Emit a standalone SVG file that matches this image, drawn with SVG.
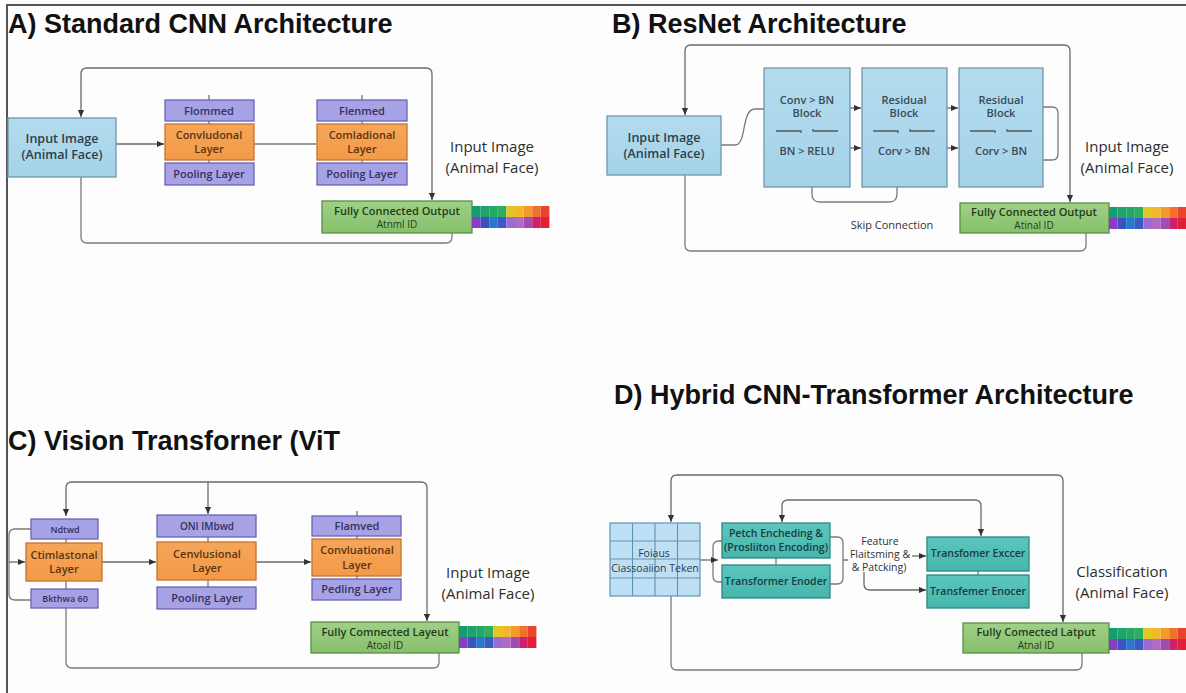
<svg xmlns="http://www.w3.org/2000/svg" width="1186" height="693" viewBox="0 0 1186 693">
<defs>
<marker id="ar" viewBox="0 0 8 8" refX="8" refY="4" markerWidth="7" markerHeight="7" markerUnits="userSpaceOnUse" orient="auto-start-reverse"><path d="M0,0.5 L8,4 L0,7.5 Z" fill="#333"/></marker>
<linearGradient id="gb" x1="0" y1="0" x2="0" y2="1"><stop offset="0" stop-color="#b3dbee"/><stop offset="1" stop-color="#a5d2e8"/></linearGradient>
<linearGradient id="gg" x1="0" y1="0" x2="0" y2="1"><stop offset="0" stop-color="#9fd086"/><stop offset="1" stop-color="#86c06c"/></linearGradient>
<linearGradient id="go" x1="0" y1="0" x2="0" y2="1"><stop offset="0" stop-color="#f6a65a"/><stop offset="1" stop-color="#f29a48"/></linearGradient>
<linearGradient id="gt" x1="0" y1="0" x2="0" y2="1"><stop offset="0" stop-color="#5cc6bd"/><stop offset="1" stop-color="#47b6ad"/></linearGradient>
<g id="cbar">
<rect x="0" y="0" width="8.6" height="11" fill="#169c72"/><rect x="8.6" y="0" width="8.6" height="11" fill="#1ea36c"/><rect x="17.2" y="0" width="8.6" height="11" fill="#25a866"/><rect x="25.8" y="0" width="8.6" height="11" fill="#30ae60"/><rect x="34.4" y="0" width="8.6" height="11" fill="#e3c524"/><rect x="43" y="0" width="8.6" height="11" fill="#f2b82a"/><rect x="51.6" y="0" width="8.6" height="11" fill="#f39a2a"/><rect x="60.2" y="0" width="8.6" height="11" fill="#f07030"/><rect x="68.8" y="0" width="8.6" height="11" fill="#e8452a"/>
<rect x="0" y="11" width="8.6" height="11" fill="#8a3cc4"/><rect x="8.6" y="11" width="8.6" height="11" fill="#3b52c0"/><rect x="17.2" y="11" width="8.6" height="11" fill="#2a78cc"/><rect x="25.8" y="11" width="8.6" height="11" fill="#3a5cc0"/><rect x="34.4" y="11" width="8.6" height="11" fill="#9f6ad0"/><rect x="43" y="11" width="8.6" height="11" fill="#b06cc0"/><rect x="51.6" y="11" width="8.6" height="11" fill="#a04cb0"/><rect x="60.2" y="11" width="8.6" height="11" fill="#d0206a"/><rect x="68.8" y="11" width="8.6" height="11" fill="#e0203a"/>
</g>
</defs>
<style>
.title{font-family:"Liberation Sans",Arial,sans-serif;font-weight:bold;font-size:27px;fill:#111}
.lbl{font-family:"Open Sans","Noto Sans",sans-serif;font-size:15px;fill:#2e2e2e;text-anchor:middle}
.t{font-family:"Open Sans","Noto Sans",sans-serif;font-size:11px;text-anchor:middle;font-weight:600}
.tb{font-family:"Open Sans","Noto Sans",sans-serif;font-size:11px;text-anchor:middle;font-weight:600;fill:#3a4a56}
.blue{fill:url(#gb);stroke:#6f98ad;stroke-width:1.3}
.pur{fill:#a7a2e6;stroke:#6b64b4;stroke-width:1.3}
.org{fill:url(#go);stroke:#c5742c;stroke-width:1.3}
.grn{fill:url(#gg);stroke:#5b8f47;stroke-width:1.3}
.teal{fill:url(#gt);stroke:#2b8982;stroke-width:1.3}
.grid{fill:#bfe0f4;stroke:#5f93b4;stroke-width:1.2}
.tp{fill:#35305c}.to{fill:#5a3412}.tg{fill:#253a1c}.tt{fill:#173c40}.tbl{fill:#2c3e4c}
.c{fill:none;stroke:#7a7a7a;stroke-width:1.3}
.ca{fill:none;stroke:#6a6a6a;stroke-width:1.3;marker-end:url(#ar)}
.cab{fill:none;stroke:#6a6a6a;stroke-width:1.3;marker-start:url(#ar);marker-end:url(#ar)}
</style>
<rect x="0" y="0" width="1186" height="693" fill="#fdfdfd"/>
<path d="M7,693 V5 H1186" fill="none" stroke="#555" stroke-width="2"/>

<!-- titles -->
<text class="title" x="8" y="33">A)  Standard CNN Architecture</text>
<text class="title" x="612" y="33">B)  ResNet Architecture</text>
<text class="title" x="8" y="450">C)  Vision Transforner (ViT</text>
<text class="title" x="614" y="404">D)  Hybrid CNN-Transformer Architecture</text>

<!-- connectors -->
<g id="connectors">
<!-- A -->
<path class="cab" d="M81,117 V74 Q81,68 87,68 H426 Q432,68 432,74 V200"/>
<path class="c" d="M81,177 V237 Q81,243 87,243 H446 Q452,243 452,237 V233"/>
<path class="ca" d="M116,144 H164"/>
<path class="c" d="M254,144 H316"/>
<path class="c" d="M209,95 V100 M209,121 V124 M209,160 V163 M362,95 V100 M362,121 V124 M362,160 V163"/>
<!-- B -->
<path class="cab" d="M685,115 V51 Q685,45 691,45 H1064 Q1070,45 1070,51 V202"/>
<path class="c" d="M685,175 V245 Q685,251 691,251 H1080 Q1086,251 1086,245 V233"/>
<path class="c" d="M721,145 H735 C747,145 741,109 755,109 H764"/>
<path class="ca" d="M850,108 H861"/>
<path class="ca" d="M850,148 H861"/>
<path class="ca" d="M947,108 H958"/>
<path class="ca" d="M947,148 H958"/>
<path class="c" d="M812,187 V194 Q812,202 820,202 H889 Q897,202 897,194 V187"/>
<path class="c" d="M1043,107 H1052 Q1058,107 1058,113 V154 Q1058,160 1052,160 H1043"/>
<!-- C -->
<path class="cab" d="M66,516 V488 Q66,482 72,482 H421 Q427,482 427,488 V621"/>
<path class="ca" d="M208,482 V514"/>
<path class="c" d="M66,608 V662 Q66,668 72,668 H433 Q439,668 439,662 V653"/>
<path class="c" d="M31,529 H15 Q9,529 9,535 V594 Q9,600 15,600 H31"/>
<path class="ca" d="M9,562 H25"/>
<path class="ca" d="M102,562 H156"/>
<path class="ca" d="M256,562 H311"/>
<path class="c" d="M66,539 V543 M66,581 V589 M208,537 V542 M208,580 V587 M357,511 V516 M357,536 V539 M357,576 V579"/>
<!-- D -->
<path class="cab" d="M671,522 V481 Q671,475 677,475 H1057 Q1063,475 1063,481 V622"/>
<path class="c" d="M671,596 V664 Q671,670 677,670 H1076 Q1082,670 1082,664 V653"/>
<path class="cab" d="M782,522 V506 Q782,500 788,500 H975 Q981,500 981,506 V536"/>
<path class="c" d="M722,541 H719 Q713,541 713,547 V576 Q713,582 719,582 H722"/>
<path class="ca" d="M700,560 H718"/>
<path class="c" d="M830,537 H837 Q843,537 843,543 V578 Q843,584 837,584 H830 M843,560 H848"/>
<path class="c" d="M776,558 V565 M978,571 V575"/>
<path class="ca" d="M912,556 H926"/>
<path class="ca" d="M864,572 V584 Q864,590 870,590 H926"/>
</g>

<!-- Panel A nodes -->
<g id="a-input"><rect class="blue" x="8" y="118" width="108" height="59"/><text class="t tbl" x="62" y="143" style="font-size:12.5px">Input Image</text><text class="t tbl" x="62" y="159" style="font-size:12.5px">(Animal Face)</text></g>
<g id="a-f1"><rect class="pur" x="165" y="100" width="89" height="21"/><text class="t tp" x="209" y="115">Flommed</text></g>
<g id="a-c1"><rect class="org" x="165" y="124" width="89" height="36"/><text class="t to" x="209" y="139">Convludonal</text><text class="t to" x="209" y="153">Layer</text></g>
<g id="a-p1"><rect class="pur" x="165" y="163" width="89" height="22"/><text class="t tp" x="209" y="178">Pooling Layer</text></g>
<g id="a-f2"><rect class="pur" x="317" y="100" width="90" height="21"/><text class="t tp" x="362" y="115">Flenmed</text></g>
<g id="a-c2"><rect class="org" x="317" y="124" width="90" height="36"/><text class="t to" x="362" y="139">Comladional</text><text class="t to" x="362" y="153">Layer</text></g>
<g id="a-p2"><rect class="pur" x="317" y="163" width="90" height="22"/><text class="t tp" x="362" y="178">Pooling Layer</text></g>
<g id="a-fc"><rect class="grn" x="322" y="201" width="150" height="32"/><text class="t tg" x="397" y="215">Fully Connected Output</text><text class="t tg" x="397" y="228" style="font-weight:500;font-size:10px">Atnml ID</text></g>
<use href="#cbar" x="472" y="206"/>
<text class="lbl" x="492" y="152">Input Image</text>
<text class="lbl" x="492" y="173">(Animal Face)</text>

<!-- Panel B nodes -->
<g id="b-input"><rect class="blue" x="607" y="116" width="114" height="59"/><text class="t tbl" x="664" y="142" style="font-size:12.5px">Input Image</text><text class="t tbl" x="664" y="158" style="font-size:12.5px">(Animal Face)</text></g>
<g id="b-blk1"><rect class="blue" x="764" y="68" width="86" height="119"/><text class="tb" x="807" y="104">Conv &gt; BN</text><text class="tb" x="807" y="117">Block</text><path class="c" d="M776,131 H801 V133 M813,129 V131 H838" style="stroke:#556"/><text class="tb" x="807" y="155">BN  &gt; RELU</text></g>
<g id="b-blk2"><rect class="blue" x="862" y="68" width="85" height="119"/><text class="tb" x="904" y="104">Residual</text><text class="tb" x="904" y="117">Block</text><path class="c" d="M873,131 H898 V133 M910,129 V131 H935" style="stroke:#556"/><text class="tb" x="904" y="155">Corv &gt; BN</text></g>
<g id="b-blk3"><rect class="blue" x="959" y="68" width="84" height="119"/><text class="tb" x="1001" y="104">Residual</text><text class="tb" x="1001" y="117">Block</text><path class="c" d="M970,131 H995 V133 M1007,129 V131 H1032" style="stroke:#556"/><text class="tb" x="1001" y="155">Corv &gt; BN</text></g>
<text class="t" x="892" y="229" style="font-size:11px;font-weight:500;fill:#333">Skip Connection</text>
<g id="b-fc"><rect class="grn" x="960" y="203" width="149" height="30"/><text class="t tg" x="1034" y="216">Fully Connected Output</text><text class="t tg" x="1034" y="229" style="font-weight:500;font-size:10px">Atinal ID</text></g>
<use href="#cbar" x="1109" y="207"/>
<text class="lbl" x="1127" y="152">Input Image</text>
<text class="lbl" x="1127" y="173">(Animal Face)</text>

<!-- Panel C nodes -->
<g id="c-n1"><rect class="pur" x="31" y="519" width="67" height="20"/><text class="t tp" x="65" y="533" style="font-size:9px">Ndtwd</text></g>
<g id="c-c1"><rect class="org" x="26" y="543" width="76" height="38"/><text class="t to" x="64" y="559">Ctimlastonal</text><text class="t to" x="64" y="573">Layer</text></g>
<g id="c-b1"><rect class="pur" x="31" y="589" width="67" height="19"/><text class="t tp" x="65" y="602" style="font-size:9px">Bkthwa 60</text></g>
<g id="c-n2"><rect class="pur" x="157" y="515" width="99" height="22"/><text class="t tp" x="207" y="530" style="font-size:10px">ONI IMbwd</text></g>
<g id="c-c2"><rect class="org" x="157" y="542" width="99" height="38"/><text class="t to" x="207" y="558">Cenvlusional</text><text class="t to" x="207" y="572">Layer</text></g>
<g id="c-p2"><rect class="pur" x="157" y="587" width="99" height="22"/><text class="t tp" x="207" y="602">Pooling Layer</text></g>
<g id="c-f3"><rect class="pur" x="312" y="516" width="89" height="20"/><text class="t tp" x="357" y="530">Flamved</text></g>
<g id="c-c3"><rect class="org" x="312" y="539" width="89" height="37"/><text class="t to" x="357" y="554">Convluational</text><text class="t to" x="357" y="569">Layer</text></g>
<g id="c-p3"><rect class="pur" x="312" y="579" width="89" height="21"/><text class="t tp" x="357" y="593">Pedling Layer</text></g>
<g id="c-fc"><rect class="grn" x="311" y="622" width="148" height="31"/><text class="t tg" x="385" y="636">Fully Comnected Layeut</text><text class="t tg" x="385" y="649" style="font-weight:500;font-size:10px">Atoal ID</text></g>
<use href="#cbar" x="459" y="626"/>
<text class="lbl" x="488" y="578">Input Image</text>
<text class="lbl" x="488" y="599">(Animal Face)</text>

<!-- Panel D nodes -->
<g id="d-grid">
<rect class="grid" x="610" y="523" width="90" height="73"/>
<path d="M632.5,523 V596 M655,523 V596 M677.5,523 V596 M610,541 H700 M610,559 H700 M610,578 H700" stroke="#5f93b4" stroke-width="1.1" fill="none"/>
<text class="t" x="654" y="557" style="font-size:10.5px;font-weight:500;fill:#2b3b4a">Foiaus</text>
<text class="t" x="655" y="572" style="font-size:10.5px;font-weight:500;fill:#2b3b4a">Ciassoaiion Teken</text>
</g>
<g id="d-petch"><rect class="teal" x="722" y="523" width="108" height="35"/><text class="t tt" x="776" y="537" style="font-size:10.5px">Petch Encheding &amp;</text><text class="t tt" x="776" y="551" style="font-size:10.5px">(Prosliiton Encoding)</text></g>
<g id="d-te1"><rect class="teal" x="722" y="565" width="108" height="33"/><text class="t tt" x="776" y="585" style="font-size:10.5px">Transformer Enoder</text></g>
<text class="t" x="880" y="545" style="font-size:10.5px;font-weight:500;fill:#333">Feature</text>
<text class="t" x="880" y="558" style="font-size:10.5px;font-weight:500;fill:#333">Flaitsming &amp;</text>
<text class="t" x="879" y="571" style="font-size:10.5px;font-weight:500;fill:#333">&amp; Patcking)</text>
<g id="d-te2"><rect class="teal" x="927" y="537" width="102" height="34"/><text class="t tt" x="978" y="557" style="font-size:10.5px">Transfomer Exccer</text></g>
<g id="d-te3"><rect class="teal" x="927" y="575" width="102" height="33"/><text class="t tt" x="978" y="595" style="font-size:10.5px">Transfemer Enocer</text></g>
<g id="d-fc"><rect class="grn" x="963" y="623" width="146" height="30"/><text class="t tg" x="1036" y="636">Fully Comected Latput</text><text class="t tg" x="1036" y="649" style="font-weight:500;font-size:10px">Atnal ID</text></g>
<use href="#cbar" x="1109" y="628"/>
<text class="lbl" x="1122" y="577">Classification</text>
<text class="lbl" x="1122" y="598">(Animal Face)</text>
</svg>
